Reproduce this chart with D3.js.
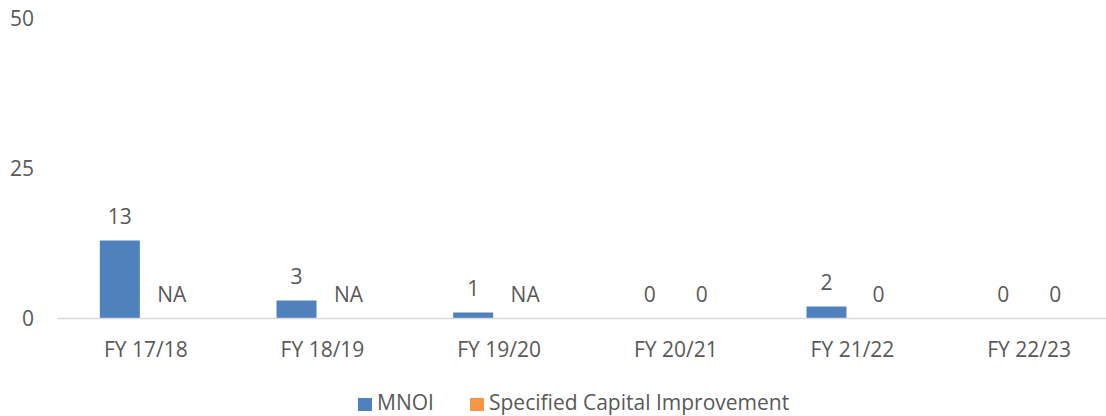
<!DOCTYPE html>
<html>
<head>
<meta charset="utf-8">
<script src="https://cdn.jsdelivr.net/npm/d3@7"></script>
<style>
  html, body { margin: 0; padding: 0; background: #fff; }
  svg { display: block; }
  text { font-family: "Open Sans", "Liberation Sans", sans-serif; fill: #595959; }
</style>
</head>
<body>
<script>
const categories = ["FY 17/18", "FY 18/19", "FY 19/20", "FY 20/21", "FY 21/22", "FY 22/23"];
const seriesNames = ["MNOI", "Specified Capital Improvement"];
const mnoi = [13, 3, 1, 0, 2, 0];
const capital = [null, null, null, 0, 0, 0];
const yTicks = [0, 25, 50];
const colors = ["#4F81BD", "#F79646"];

const W = 1106, H = 416;
const svg = d3.select("body").append("svg").attr("width", W).attr("height", H);

const x0 = d3.scaleBand().domain(categories).range([57.5, 1117.5]).padding(0);
const x1 = d3.scaleBand().domain(seriesNames).range([0, x0.bandwidth()])
  .paddingInner(0.2308).paddingOuter(0.8144);
const y = d3.scaleLinear().domain([0, 50]).range([318.5, 18.5]);

const fontSize = 21;

// y tick labels
svg.append("g").selectAll("text").data(yTicks).join("text")
  .attr("x", 34).attr("y", d => y(d)).attr("dy", "0.36em")
  .attr("text-anchor", "end").attr("font-size", fontSize)
  .text(d => d);

const seriesData = [mnoi, capital];

seriesData.forEach((vals, si) => {
  const g = svg.append("g");
  g.selectAll("rect").data(vals.map((v, i) => ({ v, c: categories[i] })))
    .join("rect")
    .attr("x", d => x0(d.c) + x1(seriesNames[si]))
    .attr("width", x1.bandwidth())
    .attr("y", d => y(d.v || 0))
    .attr("height", d => y(0) - y(d.v || 0))
    .attr("fill", colors[si]);
  g.selectAll("text").data(vals.map((v, i) => ({ v, c: categories[i] })))
    .join("text")
    .attr("x", d => x0(d.c) + x1(seriesNames[si]) + x1.bandwidth() / 2)
    .attr("y", d => y(d.v || 0) - 17)
    .attr("text-anchor", "middle").attr("font-size", fontSize)
    .text(d => d.v === null ? "NA" : d.v);
});

// x axis line
svg.append("line")
  .attr("x1", x0.range()[0]).attr("x2", x0.range()[1])
  .attr("y1", y(0)).attr("y2", y(0))
  .attr("stroke", "#D9D9D9").attr("stroke-width", 1.5);

// x labels
svg.append("g").selectAll("text").data(categories).join("text")
  .attr("x", d => x0(d) + x0.bandwidth() / 2).attr("y", 357)
  .attr("text-anchor", "middle").attr("font-size", fontSize)
  .text(d => d);

// legend
const legendX = [358, 470];
seriesNames.forEach((n, i) => {
  svg.append("rect").attr("x", legendX[i]).attr("y", 398).attr("width", 14).attr("height", 13)
    .attr("fill", colors[i]);
  svg.append("text").attr("x", legendX[i] + 19).attr("y", 410)
    .attr("font-size", fontSize).text(n);
});
</script>
</body>
</html>
